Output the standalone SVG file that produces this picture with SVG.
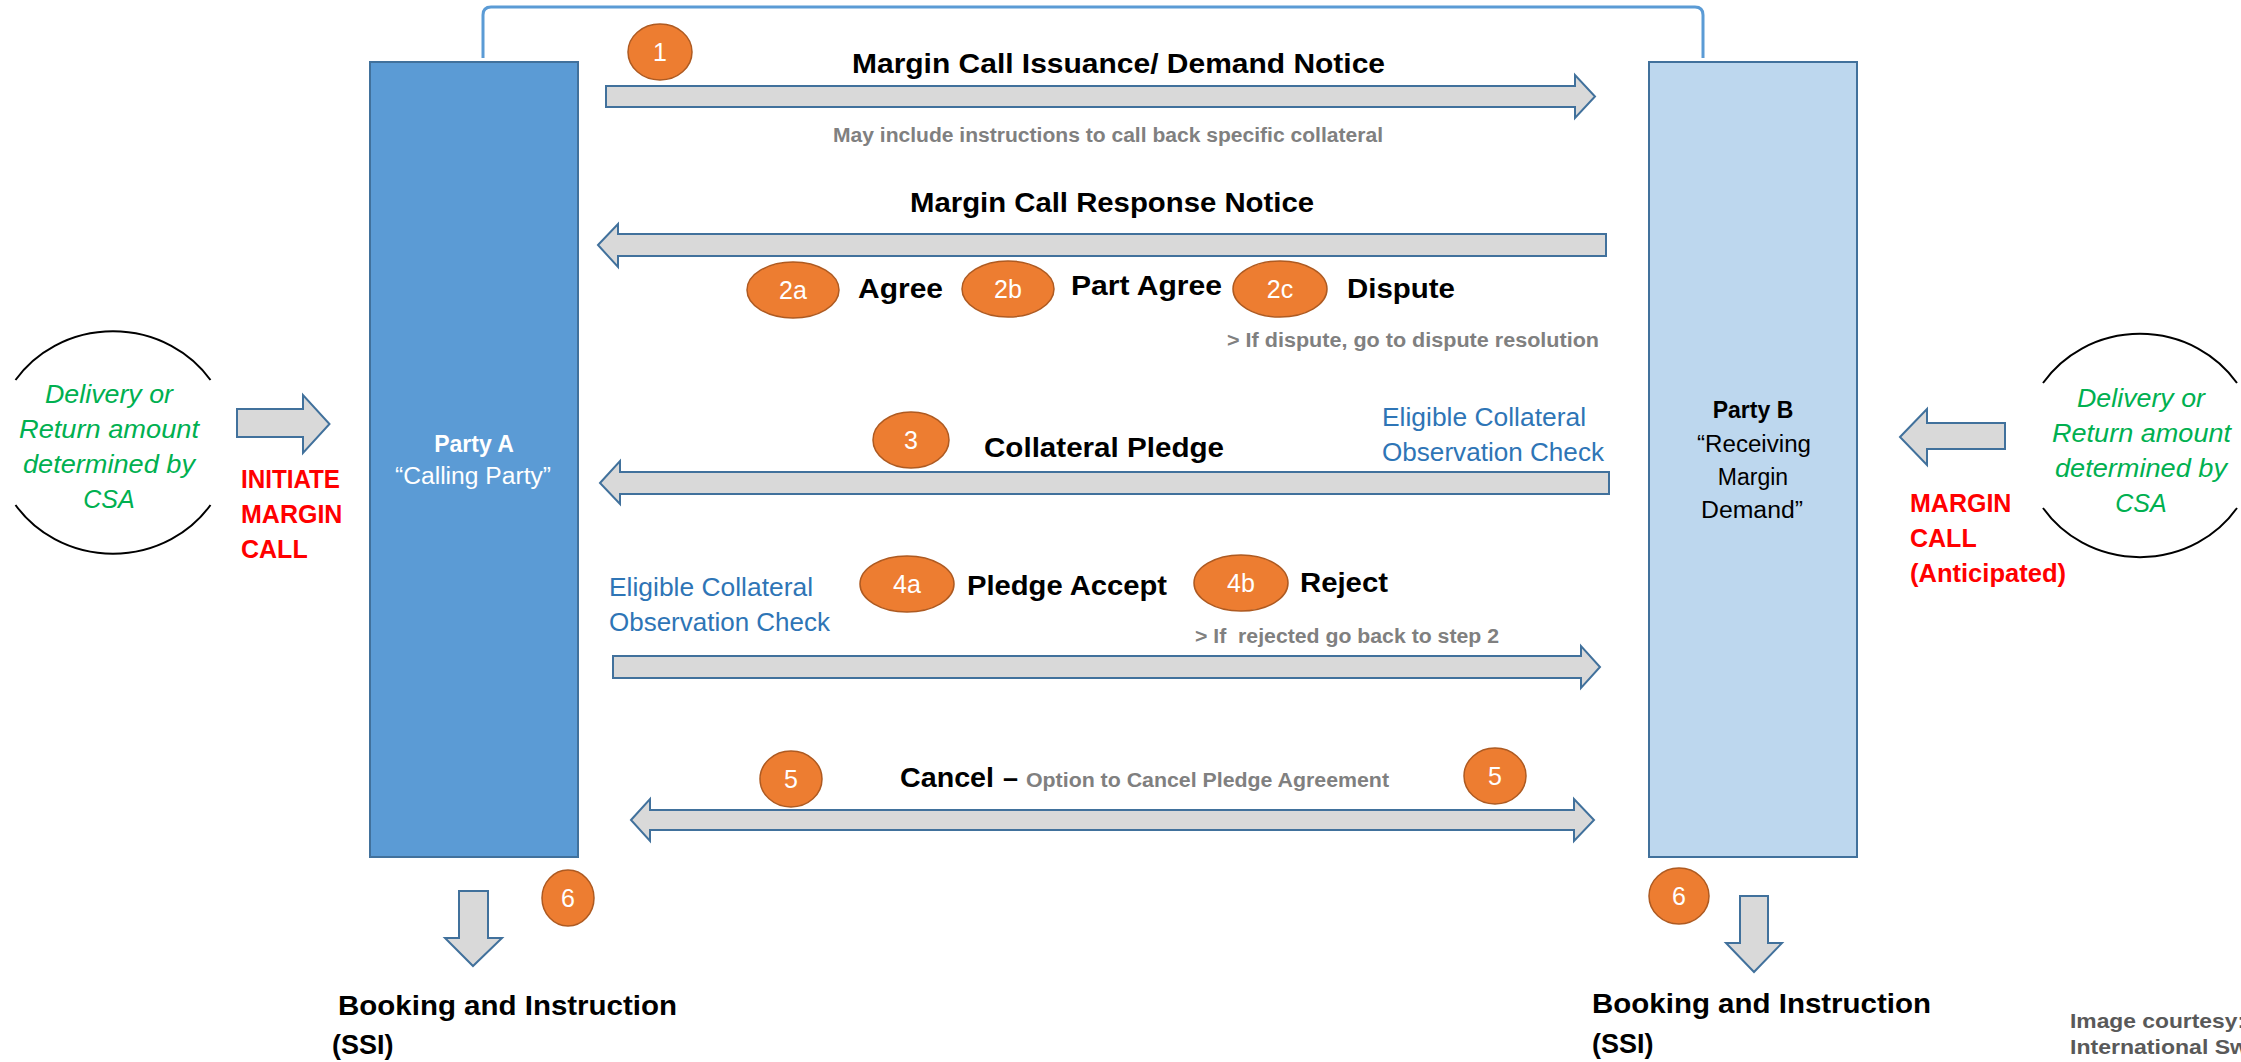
<svg xmlns="http://www.w3.org/2000/svg" width="2241" height="1062" viewBox="0 0 2241 1062">
  <style>
    text { font-family: "Liberation Sans", Arial, sans-serif; }
    .h { font-weight: bold; font-size: 27px; fill: #000; }
    .note { font-weight: bold; font-size: 20px; fill: #808080; }
    .blue { font-size: 25px; fill: #2e75b6; }
    .red { font-weight: bold; font-size: 25px; fill: #ff0000; }
    .green { font-style: italic; font-size: 25px; fill: #00b050; }
    .num { font-size: 25px; fill: #ffffff; text-anchor: middle; }
    .badge { fill: #ed7d31; stroke: #ae5a21; stroke-width: 1.5; }
    .arrow { fill: #d9d9d9; stroke: #41719c; stroke-width: 2; }
    .arc { fill: none; stroke: #000; stroke-width: 2; }
    .party { stroke: #41719c; stroke-width: 2; }
    .pa { font-size: 23px; fill: #ffffff; }
    .pb { font-size: 23px; fill: #000000; }
    .credit { font-weight: bold; font-size: 21px; fill: #595959; }
  </style>

  <rect width="2241" height="1062" fill="#ffffff"/>

  <!-- connectors: message arrows between the parties, side and booking arrows -->
  <g id="connectors">
    <path id="bracket" d="M483,58 V15 Q483,7 491,7 H1695 Q1703,7 1703,15 V58" fill="none" stroke="#5b9bd5" stroke-width="3"/>
    <path id="arrow-1" class="arrow" d="M606,86 H1575 V75 L1595,96.5 L1575,118 V107 H606 Z"/>
    <path id="arrow-2" class="arrow" d="M598,245 L618,224 V234 H1606 V256 H618 V267 Z"/>
    <path id="arrow-3" class="arrow" d="M600,483 L620,461 V472 H1609 V494 H620 V504 Z"/>
    <path id="arrow-4" class="arrow" d="M613,656 H1581 V646 L1600,667 L1581,688 V678 H613 Z"/>
    <path id="arrow-5" class="arrow" d="M631,820 L650,799 V810 H1574 V799 L1594,820 L1574,841 V830 H650 V841 Z"/>
    <path id="arrow-initiate" class="arrow" d="M237,409 H303 V395 L329.5,424 L303,453 V437 H237 Z"/>
    <path id="arrow-anticipated" class="arrow" d="M1900,437 L1927,409 V423 H2005 V449 H1927 V465 Z"/>
    <path id="arrow-book-a" class="arrow" d="M459,891 H488 V938 H502 L473,966 L445,938 H459 Z"/>
    <path id="arrow-book-b" class="arrow" d="M1740,896 H1768 V943 H1782 L1754,972 L1726,943 H1740 Z"/>
  </g>

  <!-- Party A -->
  <g id="party-a">
    <rect class="party" x="370" y="62" width="208" height="795" fill="#5b9bd5"/>
    <text class="pa" x="474" y="452" font-weight="bold" text-anchor="middle">Party A</text>
    <text class="pa" x="395" y="484" textLength="156" lengthAdjust="spacingAndGlyphs">“Calling Party”</text>
  </g>

  <!-- Party B -->
  <g id="party-b">
    <rect class="party" x="1649" y="62" width="208" height="795" fill="#bdd7ee"/>
    <text class="pb" x="1753" y="418" font-weight="bold" text-anchor="middle">Party B</text>
    <text class="pb" x="1697" y="452" textLength="114" lengthAdjust="spacingAndGlyphs">“Receiving</text>
    <text class="pb" x="1753" y="485" text-anchor="middle">Margin</text>
    <text class="pb" x="1701" y="518" textLength="102" lengthAdjust="spacingAndGlyphs">Demand”</text>
  </g>

  <!-- CSA amount, left side -->
  <g id="csa-a">
    <path class="arc" d="M15.5,380 A118,111.5 0 0 1 210.5,380"/>
    <path class="arc" d="M15.5,505 A118,111.5 0 0 0 210.5,505"/>
    <text class="green" x="45" y="403" textLength="128" lengthAdjust="spacingAndGlyphs">Delivery or</text>
    <text class="green" x="19" y="438" textLength="180" lengthAdjust="spacingAndGlyphs">Return amount</text>
    <text class="green" x="23" y="473" textLength="172" lengthAdjust="spacingAndGlyphs">determined by</text>
    <text class="green" x="109" y="508" text-anchor="middle">CSA</text>
  </g>

  <!-- CSA amount, right side -->
  <g id="csa-b">
    <path class="arc" d="M2043,383 A117,111.5 0 0 1 2237,383"/>
    <path class="arc" d="M2043,508 A117,111.5 0 0 0 2237,508"/>
    <text class="green" x="2077" y="407" textLength="128" lengthAdjust="spacingAndGlyphs">Delivery or</text>
    <text class="green" x="2052" y="442" textLength="179" lengthAdjust="spacingAndGlyphs">Return amount</text>
    <text class="green" x="2055" y="477" textLength="172" lengthAdjust="spacingAndGlyphs">determined by</text>
    <text class="green" x="2141" y="512" text-anchor="middle">CSA</text>
  </g>

  <!-- margin call triggers -->
  <g id="initiate">
    <text class="red" x="241" y="488" textLength="99" lengthAdjust="spacingAndGlyphs">INITIATE</text>
    <text class="red" x="241" y="523">MARGIN</text>
    <text class="red" x="241" y="558">CALL</text>
  </g>
  <g id="anticipated">
    <text class="red" x="1910" y="512">MARGIN</text>
    <text class="red" x="1910" y="547">CALL</text>
    <text class="red" x="1910" y="582" textLength="156" lengthAdjust="spacingAndGlyphs">(Anticipated)</text>
  </g>

  <!-- step 1 -->
  <g id="step-1">
    <ellipse class="badge" cx="660" cy="52" rx="32" ry="28"/>
    <text class="num" x="660" y="61">1</text>
    <text class="h" x="852" y="73" textLength="533" lengthAdjust="spacingAndGlyphs">Margin Call Issuance/ Demand Notice</text>
    <text class="note" x="833" y="142" textLength="550" lengthAdjust="spacingAndGlyphs">May include instructions to call back specific collateral</text>
  </g>

  <!-- step 2 -->
  <g id="step-2">
    <text class="h" x="910" y="212" textLength="404" lengthAdjust="spacingAndGlyphs">Margin Call Response Notice</text>
    <ellipse class="badge" cx="793" cy="290" rx="46" ry="28"/>
    <text class="num" x="793" y="299">2a</text>
    <text class="h" x="858" y="298" textLength="85" lengthAdjust="spacingAndGlyphs">Agree</text>
    <ellipse class="badge" cx="1008" cy="289" rx="46" ry="28"/>
    <text class="num" x="1008" y="298">2b</text>
    <text class="h" x="1071" y="295" textLength="151" lengthAdjust="spacingAndGlyphs">Part Agree</text>
    <ellipse class="badge" cx="1280" cy="289" rx="47" ry="28"/>
    <text class="num" x="1280" y="298">2c</text>
    <text class="h" x="1347" y="298" textLength="108" lengthAdjust="spacingAndGlyphs">Dispute</text>
    <text class="note" x="1227" y="347" textLength="372" lengthAdjust="spacingAndGlyphs">&gt; If dispute, go to dispute resolution</text>
  </g>

  <!-- step 3 -->
  <g id="step-3">
    <ellipse class="badge" cx="911" cy="440" rx="38" ry="28"/>
    <text class="num" x="911" y="449">3</text>
    <text class="h" x="984" y="457" textLength="240" lengthAdjust="spacingAndGlyphs">Collateral Pledge</text>
    <text class="blue" x="1382" y="426" textLength="204" lengthAdjust="spacingAndGlyphs">Eligible Collateral</text>
    <text class="blue" x="1382" y="461" textLength="222" lengthAdjust="spacingAndGlyphs">Observation Check</text>
  </g>

  <!-- step 4 -->
  <g id="step-4">
    <text class="blue" x="609" y="596" textLength="204" lengthAdjust="spacingAndGlyphs">Eligible Collateral</text>
    <text class="blue" x="609" y="631" textLength="221" lengthAdjust="spacingAndGlyphs">Observation Check</text>
    <ellipse class="badge" cx="907" cy="584" rx="47" ry="28"/>
    <text class="num" x="907" y="593">4a</text>
    <text class="h" x="967" y="595" textLength="200" lengthAdjust="spacingAndGlyphs">Pledge Accept</text>
    <ellipse class="badge" cx="1241" cy="583" rx="47" ry="28"/>
    <text class="num" x="1241" y="592">4b</text>
    <text class="h" x="1300" y="592" textLength="88" lengthAdjust="spacingAndGlyphs">Reject</text>
    <text class="note" x="1195" y="643" textLength="304" lengthAdjust="spacingAndGlyphs" xml:space="preserve">&gt; If  rejected go back to step 2</text>
  </g>

  <!-- step 5 -->
  <g id="step-5">
    <ellipse class="badge" cx="791" cy="779" rx="31" ry="28"/>
    <text class="num" x="791" y="788">5</text>
    <ellipse class="badge" cx="1495" cy="776" rx="31" ry="28"/>
    <text class="num" x="1495" y="785">5</text>
    <text class="h" x="900" y="787" textLength="94" lengthAdjust="spacingAndGlyphs">Cancel</text>
    <text class="h" x="1003" y="787" font-size="22">–</text>
    <text class="note" x="1026" y="787" textLength="363" lengthAdjust="spacingAndGlyphs">Option to Cancel Pledge Agreement</text>
  </g>

  <!-- step 6: booking -->
  <g id="step-6-a">
    <ellipse class="badge" cx="568" cy="898" rx="26" ry="28"/>
    <text class="num" x="568" y="907">6</text>
    <text class="h" x="338" y="1015" textLength="339" lengthAdjust="spacingAndGlyphs">Booking and Instruction</text>
    <text class="h" x="332" y="1054">(SSI)</text>
  </g>
  <g id="step-6-b">
    <ellipse class="badge" cx="1679" cy="896" rx="30" ry="28"/>
    <text class="num" x="1679" y="905">6</text>
    <text class="h" x="1592" y="1013" textLength="339" lengthAdjust="spacingAndGlyphs">Booking and Instruction</text>
    <text class="h" x="1592" y="1053">(SSI)</text>
  </g>

  <!-- credit line -->
  <g id="credit">
    <text class="credit" x="2070" y="1028" textLength="175" lengthAdjust="spacingAndGlyphs">Image courtesy:</text>
    <text class="credit" x="2070" y="1054" textLength="178" lengthAdjust="spacingAndGlyphs">International Sw</text>
  </g>
</svg>
